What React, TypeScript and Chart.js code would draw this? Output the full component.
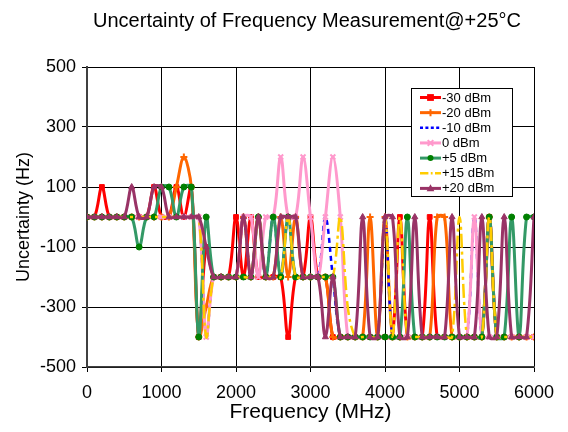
import React, { useEffect, useRef } from "react";
import { Chart, registerables } from "chart.js";

Chart.register(...registerables);

const TITLE = "Uncertainty of Frequency Measurement@+25°C";
const X_TITLE = "Frequency (MHz)";
const Y_TITLE = "Uncertainty (Hz)";

const frequencies = [
  0, 100, 200, 300, 400, 500, 600, 700, 800, 900,
  1000, 1100, 1200, 1300, 1400, 1500, 1600, 1700, 1800, 1900,
  2000, 2100, 2200, 2300, 2400, 2500, 2600, 2700, 2800, 2900,
  3000, 3100, 3200, 3300, 3400, 3500, 3600, 3700, 3800, 3900,
  4000, 4100, 4200, 4300, 4400, 4500, 4600, 4700, 4800, 4900,
  5000, 5100, 5200, 5300, 5400, 5500, 5600, 5700, 5800, 5900,
  6000,
];

const seriesNames = ["-30 dBm", "-20 dBm", "-10 dBm", "0 dBm", "+5 dBm", "+15 dBm", "+20 dBm"];

const minus30dBm = [
  0, 0, 100, 0, 0, 0, 0, 0, 0, 100,
  0, 0, 100, 0, 100, -400, -100, -200, -200, -200,
  0, -200, 0, -200, -200, -200, -200, -400, -200, -200,
  0, -200, -200, -400, -400, -400, -400, -400, -400, -400,
  -400, -400, 0, -400, -400, -400, 0, -400, -400, -400,
  -400, -400, -400, -400, 0, -400, -400, -400, -400, -400,
  -400,
];
const minus20dBm = [
  0, 0, 0, 0, 0, 0, 0, 0, 0, 0,
  0, 0, 100, 200, 100, -400, -300, -200, -200, -200,
  -200, 0, -200, 0, -200, -200, 0, -200, 0, -200,
  -200, -200, -200, -400, -400, -400, -400, -400, 0, -400,
  0, -400, -400, -400, -400, -400, -400, 0, 0, -400,
  -400, -400, -400, -400, 0, -400, -400, -400, -400, -400,
  -400,
];
const minus10dBm = [
  0, 0, 0, 0, 0, 0, 0, 0, 0, 0,
  0, 0, 0, 0, 0, 0, -400, -200, -200, -200,
  -200, 0, -200, 0, -200, 0, -200, 0, -200, -200,
  -200, -200, 0, -200, -400, -400, -400, -400, -400, -400,
  0, -400, -400, -400, -400, -400, -400, -400, -400, -400,
  -400, -400, 0, -400, -400, -400, -400, -400, -400, -400,
  -400,
];
const zero_dBm = [
  0, 0, 0, 0, 0, 0, 0, 0, 0, 0,
  0, 0, 0, 0, 0, 0, -400, -200, -200, -200,
  -200, 0, 0, -200, 0, 0, 200, 0, 0, 200,
  0, -200, 0, 200, 0, -400, -400, -400, -400, -400,
  -400, -400, -400, -400, -400, -400, -400, -400, -400, -400,
  -400, -400, 0, -400, -400, -400, -400, -400, -400, -400,
  -400,
];
const plus5dBm = [
  0, 0, 0, 0, 0, 0, 0, -100, 0, 0,
  100, 100, 0, 100, 100, -400, 0, -200, -200, -200,
  -200, -200, -200, 0, -200, 0, -200, 0, -200, -200,
  -200, -200, -200, -200, -400, -400, -400, -400, -400, -400,
  -400, -400, -400, 0, -400, -400, -400, -400, -400, -400,
  -400, -400, -400, -400, 0, -400, -400, 0, -400, 0,
  0,
];
const plus15dBm = [
  0, 0, 0, 0, 0, 0, 0, 0, 0, 0,
  0, 0, 0, 0, 0, 0, -400, -200, -200, -200,
  -200, -200, -200, 0, -200, -200, -200, 0, -200, -200,
  -200, -200, -200, -200, 0, -300, -400, -400, -400, -400,
  0, -400, 0, -400, -400, -400, -400, -400, -400, -400,
  0, -400, -400, -400, 0, -400, -400, -400, -400, -400,
  -400,
];
const plus20dBm = [
  0, 0, 0, 0, 0, 0, 100, 0, 0, 100,
  100, 0, 0, 0, 0, 0, -100, -200, -200, -200,
  -200, 0, -200, 0, -200, -200, 0, 0, 0, -200,
  -200, -200, -400, -200, -400, -400, -400, 0, -400, -400,
  0, 0, -400, -400, 0, -400, -400, -400, -400, 0,
  -400, -400, -400, 0, -400, -400, 0, -400, -400, -400,
  0,
];

const seriesValues = [minus30dBm, minus20dBm, minus10dBm, zero_dBm, plus5dBm, plus15dBm, plus20dBm];

const xTicks = [0, 1000, 2000, 3000, 4000, 5000, 6000];
const yTicks = [-500, -300, -100, 100, 300, 500];

type Style = {
  line: string;
  marker: string;
  point: string | false;
  radius: number;
  width: number;
  dash: number[];
};

const styles: Style[] = [
  { line: "#FF0000", marker: "#FF0000", point: "rect", radius: 3.4, width: 3, dash: [] },
  { line: "#FF6600", marker: "#FF6600", point: "cross", radius: 3.5, width: 3, dash: [] },
  { line: "#0000FF", marker: "#0000FF", point: false, radius: 0, width: 2.5, dash: [5, 4] },
  { line: "#FF99CC", marker: "#FF99CC", point: "crossRot", radius: 3.5, width: 3, dash: [] },
  { line: "#339966", marker: "#008000", point: "circle", radius: 3, width: 3, dash: [] },
  { line: "#FFCC00", marker: "#FFCC00", point: false, radius: 0, width: 2.5, dash: [14, 4, 3, 4] },
  { line: "#993366", marker: "#993366", point: "triangle", radius: 3.5, width: 3, dash: [] },
];

const FONT = "Arial, 'Liberation Sans', sans-serif";

function drawMarker(ctx: CanvasRenderingContext2D, st: Style, x: number, y: number) {
  if (!st.point) return;
  const r = st.radius;
  ctx.save();
  ctx.fillStyle = st.marker;
  ctx.strokeStyle = st.marker;
  ctx.lineWidth = 2;
  ctx.setLineDash([]);
  ctx.beginPath();
  if (st.point === "rect") {
    ctx.fillRect(x - r, y - r, 2 * r, 2 * r);
  } else if (st.point === "circle") {
    ctx.arc(x, y, r, 0, Math.PI * 2);
    ctx.fill();
  } else if (st.point === "triangle") {
    ctx.moveTo(x, y - r * 1.2);
    ctx.lineTo(x + r * 1.1, y + r * 0.8);
    ctx.lineTo(x - r * 1.1, y + r * 0.8);
    ctx.closePath();
    ctx.fill();
  } else if (st.point === "cross") {
    ctx.moveTo(x - r, y);
    ctx.lineTo(x + r, y);
    ctx.moveTo(x, y - r);
    ctx.lineTo(x, y + r);
    ctx.stroke();
  } else if (st.point === "crossRot") {
    const d = r * 0.8;
    ctx.moveTo(x - d, y - d);
    ctx.lineTo(x + d, y + d);
    ctx.moveTo(x - d, y + d);
    ctx.lineTo(x + d, y - d);
    ctx.stroke();
  }
  ctx.restore();
}

const overlayPlugin = {
  id: "overlay",
  afterDraw(chart: any) {
    const ctx: CanvasRenderingContext2D = chart.ctx;
    const area = chart.chartArea;
    ctx.save();
    ctx.fillStyle = "#000";
    ctx.textAlign = "center";
    ctx.textBaseline = "middle";
    ctx.font = `20px ${FONT}`;
    ctx.fillText(TITLE, 307, 21);
    ctx.font = `21px ${FONT}`;
    ctx.fillText(X_TITLE, (area.left + area.right) / 2, 412);
    ctx.font = `18px ${FONT}`;
    ctx.translate(24, (area.top + area.bottom) / 2);
    ctx.rotate(-Math.PI / 2);
    ctx.fillText(Y_TITLE, 0, 0);
    ctx.restore();

    // legend box
    const bx = 411.5;
    const by = 88.5;
    const bw = 101;
    const bh = 108;
    ctx.save();
    ctx.fillStyle = "#FFFFFF";
    ctx.fillRect(bx, by, bw, bh);
    ctx.strokeStyle = "#000";
    ctx.lineWidth = 1;
    ctx.strokeRect(bx, by, bw, bh);
    ctx.font = `13px ${FONT}`;
    ctx.textAlign = "left";
    ctx.textBaseline = "middle";
    seriesNames.forEach((name, i) => {
      const st = styles[i];
      const y = 97.5 + i * 15.15;
      ctx.save();
      ctx.strokeStyle = st.line;
      ctx.lineWidth = st.width;
      ctx.setLineDash(st.dash.length ? st.dash.map((d) => d * 0.6) : []);
      ctx.beginPath();
      ctx.moveTo(420, y);
      ctx.lineTo(441, y);
      ctx.stroke();
      ctx.restore();
      drawMarker(ctx, st, 430.5, y);
      ctx.fillStyle = "#000";
      ctx.fillText(name, 442, y + 0.5);
    });
    ctx.restore();
  },
};

export default function App() {
  const ref = useRef<HTMLCanvasElement | null>(null);

  useEffect(() => {
    if (!ref.current) return;
    Chart.defaults.font.family = FONT;
    Chart.defaults.color = "#000";
    const datasets = seriesNames.map((name, i) => {
      const st = styles[i];
      return {
        label: name,
        data: frequencies.map((f, j) => ({ x: f, y: seriesValues[i][j] })),
        borderColor: st.line,
        backgroundColor: st.marker,
        borderWidth: st.width,
        borderDash: st.dash,
        tension: 0.35,
        pointStyle: st.point,
        pointRadius: st.point ? st.radius : 0,
        pointBackgroundColor: st.marker,
        pointBorderColor: st.marker,
        pointBorderWidth: st.point === "cross" || st.point === "crossRot" ? 2 : 1,
        order: seriesNames.length - i,
        fill: false,
      };
    });

    const chart = new Chart(ref.current, {
      type: "line",
      data: { datasets: datasets as any },
      options: {
        animation: false,
        responsive: false,
        devicePixelRatio: 1,
        layout: { padding: { top: 67, right: 34, left: 0, bottom: 0 } },
        plugins: {
          legend: { display: false },
          title: { display: false },
          tooltip: { enabled: false },
        },
        scales: {
          x: {
            type: "linear",
            min: 0,
            max: 6000,
            afterBuildTicks: (s: any) => {
              s.ticks = xTicks.map((v) => ({ value: v }));
            },
            afterFit: (s: any) => {
              s.height = 65;
              s.paddingLeft = 0;
              s.paddingRight = 0;
            },
            ticks: {
              font: { size: 18 },
              color: "#000",
              padding: 10,
              maxRotation: 0,
              autoSkip: false,
              callback: (v: any) => String(v),
            },
            grid: { color: "#000", lineWidth: 1, tickLength: 5, tickColor: "#000" },
            border: { color: "#404040", width: 1.5 },
          },
          y: {
            type: "linear",
            min: -500,
            max: 500,
            afterBuildTicks: (s: any) => {
              s.ticks = yTicks.map((v) => ({ value: v }));
            },
            afterFit: (s: any) => {
              s.width = 87;
              s.paddingTop = 0;
              s.paddingBottom = 0;
            },
            ticks: {
              font: { size: 18 },
              color: "#000",
              padding: 6,
              autoSkip: false,
              callback: (v: any) => String(v),
            },
            grid: { color: "#000", lineWidth: 1, tickLength: 5, tickColor: "#000" },
            border: { color: "#404040", width: 2 },
          },
        },
      },
      plugins: [overlayPlugin],
    });
    return () => chart.destroy();
  }, []);

  return (
    <div style={{ position: "absolute", left: 0, top: 0, width: 568, height: 432, background: "#fff" }}>
      <canvas ref={ref} width={568} height={432} style={{ width: 568, height: 432 }} />
    </div>
  );
}
